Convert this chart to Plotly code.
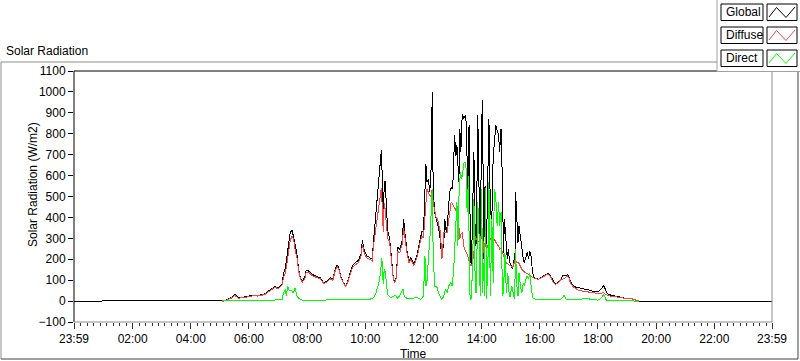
import plotly.graph_objects as go

# ---------------- data ----------------
global_time = [
    "00:00", "05:05", "05:07", "05:15", "05:25", "05:31", "05:38", "05:48", "05:58", "06:09",
    "06:19", "06:26", "06:33", "06:40", "06:47", "06:54", "07:00", "07:08", "07:11", "07:15",
    "07:18", "07:22", "07:25", "07:29", "07:32", "07:35", "07:39", "07:42", "07:46", "07:50",
    "07:55", "07:58", "08:03", "08:10", "08:17", "08:27", "08:34", "08:41", "08:48", "08:53",
    "08:58", "09:02", "09:05", "09:10", "09:15", "09:19", "09:23", "09:29", "09:33", "09:39",
    "09:46", "09:51", "09:54", "09:58", "10:03", "10:09", "10:14", "10:17", "10:21", "10:24",
    "10:26", "10:29", "10:31", "10:33", "10:35", "10:37", "10:39", "10:41", "10:43", "10:46",
    "10:50", "10:53", "10:57", "11:00", "11:04", "11:07", "11:11", "11:16", "11:19", "11:22",
    "11:26", "11:30", "11:34", "11:40", "11:47", "11:54", "11:57", "12:00", "12:03", "12:05",
    "12:07", "12:10", "12:13", "12:16", "12:18", "12:20", "12:23", "12:26", "12:29", "12:33",
    "12:35", "12:38", "12:40", "12:42", "12:44", "12:47", "12:49", "12:51", "12:54", "12:57",
    "13:00", "13:02", "13:04", "13:07", "13:09", "13:13", "13:15", "13:17", "13:20", "13:23",
    "13:26", "13:29", "13:31", "13:34", "13:37", "13:39", "13:41", "13:44", "13:47", "13:49",
    "13:52", "13:55", "13:57", "14:00", "14:02", "14:04", "14:07", "14:10", "14:13", "14:15",
    "14:18", "14:21", "14:24", "14:26", "14:29", "14:32", "14:35", "14:37", "14:40", "14:43",
    "14:45", "14:47", "14:50", "14:53", "14:55", "14:58", "15:01", "15:04", "15:06", "15:09",
    "15:10", "15:12", "15:15", "15:17", "15:20", "15:23", "15:26", "15:28", "15:31", "15:34",
    "15:37", "15:39", "15:42", "15:45", "15:48", "15:52", "15:57", "16:02", "16:07", "16:12",
    "16:17", "16:22", "16:27", "16:32", "16:38", "16:43", "16:48", "16:52", "16:57", "17:00",
    "17:03", "17:08", "17:14", "17:21", "17:28", "17:34", "17:41", "17:48", "17:55", "18:02",
    "18:07", "18:12", "18:16", "18:19", "18:26", "18:36", "18:47", "18:57", "19:11", "19:21",
    "19:24", "23:59"]
global_wm2 = [
    0, 0, 2, 6, 19, 32, 16, 18, 22, 29,
    26, 30, 35, 48, 58, 70, 61, 81, 130, 160,
    208, 273, 328, 339, 312, 272, 224, 160, 112, 96,
    112, 147, 144, 128, 120, 112, 88, 96, 112, 104,
    152, 173, 160, 112, 88, 72, 88, 136, 168, 184,
    195, 224, 291, 240, 216, 208, 200, 288, 400, 472,
    512, 608, 640, 720, 592, 384, 560, 576, 480, 336,
    304, 208, 128, 88, 112, 256, 248, 288, 392, 320,
    240, 192, 208, 176, 224, 304, 336, 328, 552, 656,
    568, 584, 520, 648, 1000, 536, 424, 392, 360, 328,
    280, 200, 248, 280, 392, 328, 360, 424, 520, 544,
    536, 632, 792, 696, 744, 568, 824, 712, 896, 872,
    888, 840, 472, 840, 200, 168, 424, 712, 264, 280,
    888, 552, 216, 856, 960, 200, 552, 264, 632, 872,
    424, 392, 712, 744, 840, 808, 792, 712, 824, 552,
    232, 392, 264, 200, 248, 184, 168, 152, 184, 232,
    520, 440, 280, 360, 296, 248, 200, 184, 216, 232,
    200, 240, 216, 136, 112, 107, 104, 112, 120, 128,
    133, 120, 96, 80, 93, 104, 123, 120, 125, 118,
    96, 75, 67, 64, 59, 56, 53, 48, 45, 48,
    59, 75, 56, 35, 29, 24, 16, 13, 10, 3,
    0, 0]

diffuse_time = [
    "05:05", "05:07", "05:15", "05:25", "05:31", "05:38", "05:48", "05:58", "06:09", "06:19",
    "06:26", "06:33", "06:40", "06:47", "06:54", "07:00", "07:08", "07:11", "07:15", "07:18",
    "07:22", "07:25", "07:29", "07:32", "07:35", "07:39", "07:42", "07:46", "07:50", "07:55",
    "07:58", "08:03", "08:10", "08:17", "08:27", "08:34", "08:41", "08:48", "08:53", "08:58",
    "09:02", "09:05", "09:10", "09:15", "09:19", "09:23", "09:29", "09:33", "09:39", "09:46",
    "09:51", "09:54", "09:58", "10:03", "10:09", "10:14", "10:17", "10:21", "10:24", "10:26",
    "10:29", "10:31", "10:33", "10:35", "10:37", "10:39", "10:41", "10:43", "10:46", "10:50",
    "10:53", "10:57", "11:00", "11:04", "11:07", "11:11", "11:16", "11:19", "11:22", "11:26",
    "11:30", "11:34", "11:40", "11:47", "11:54", "11:57", "12:00", "12:03", "12:07", "12:10",
    "12:13", "12:16", "12:18", "12:20", "12:23", "12:26", "12:29", "12:33", "12:35", "12:38",
    "12:40", "12:42", "12:47", "12:49", "12:54", "12:57", "13:00", "13:02", "13:07", "13:09",
    "13:13", "13:15", "13:17", "13:20", "13:23", "13:26", "13:29", "13:31", "13:34", "13:37",
    "13:39", "13:41", "13:44", "13:47", "13:49", "13:52", "13:55", "13:57", "14:00", "14:02",
    "14:04", "14:07", "14:10", "14:13", "14:15", "14:18", "14:21", "14:24", "14:26", "14:29",
    "14:32", "14:35", "14:37", "14:40", "14:43", "14:45", "14:47", "14:50", "14:55", "14:58",
    "15:01", "15:04", "15:09", "15:10", "15:12", "15:15", "15:17", "15:20", "15:23", "15:28",
    "15:31", "15:37", "15:42", "15:45", "15:48", "15:52", "15:57", "16:02", "16:07", "16:12",
    "16:17", "16:22", "16:27", "16:32", "16:38", "16:43", "16:48", "16:52", "16:57", "17:00",
    "17:03", "17:08", "17:14", "17:21", "17:28", "17:34", "17:41", "17:48", "17:55", "18:02",
    "18:07", "18:12", "18:16", "18:19", "18:26", "18:36", "18:47", "18:57", "19:11", "19:21",
    "19:24"]
diffuse_wm2 = [
    0, 2, 5, 16, 27, 14, 16, 20, 26, 24,
    28, 32, 44, 54, 66, 58, 75, 110, 135, 175,
    240, 290, 312, 295, 250, 205, 150, 105, 90, 105,
    138, 138, 122, 115, 106, 84, 92, 106, 100, 146,
    166, 154, 108, 85, 70, 84, 128, 158, 172, 185,
    212, 270, 228, 206, 200, 192, 265, 345, 400, 420,
    470, 510, 540, 450, 330, 470, 440, 380, 300, 285,
    200, 122, 85, 108, 236, 232, 270, 350, 300, 228,
    184, 198, 168, 212, 290, 310, 300, 424, 536, 520,
    504, 500, 536, 470, 424, 400, 392, 340, 328, 200,
    260, 328, 330, 330, 420, 472, 465, 456, 440, 424,
    360, 296, 320, 328, 264, 240, 232, 216, 200, 168,
    170, 184, 232, 312, 296, 285, 280, 280, 310, 328,
    232, 280, 248, 265, 280, 300, 312, 305, 296, 280,
    270, 264, 248, 255, 232, 215, 200, 184, 175, 168,
    168, 160, 195, 200, 184, 184, 180, 168, 152, 140,
    136, 128, 120, 112, 110, 105, 104, 110, 118, 125,
    130, 118, 92, 80, 88, 101, 104, 110, 120, 110,
    88, 70, 60, 51, 48, 45, 42, 40, 38, 37,
    40, 40, 32, 28, 24, 20, 16, 13, 10, 3,
    0]

direct_time = [
    "05:05", "05:15", "05:25", "05:38", "06:00", "06:30", "06:54", "07:00", "07:08", "07:11",
    "07:15", "07:17", "07:20", "07:23", "07:27", "07:31", "07:35", "07:39", "07:42", "07:46",
    "07:50", "08:00", "08:30", "09:00", "09:30", "10:00", "10:09", "10:17", "10:21", "10:25",
    "10:28", "10:31", "10:34", "10:37", "10:39", "10:41", "10:43", "10:46", "10:52", "11:02",
    "11:07", "11:18", "11:20", "11:26", "11:47", "11:54", "12:00", "12:03", "12:05", "12:07",
    "12:11", "12:14", "12:18", "12:20", "12:23", "12:27", "12:31", "12:35", "12:38", "12:42",
    "12:45", "12:49", "12:52", "12:56", "12:59", "13:02", "13:04", "13:06", "13:09", "13:11",
    "13:13", "13:16", "13:19", "13:22", "13:24", "13:26", "13:28", "13:30", "13:33", "13:35",
    "13:38", "13:41", "13:44", "13:47", "13:49", "13:52", "13:55", "13:57", "14:00", "14:02",
    "14:04", "14:06", "14:08", "14:10", "14:13", "14:15", "14:18", "14:21", "14:24", "14:26",
    "14:29", "14:32", "14:35", "14:37", "14:40", "14:43", "14:45", "14:48", "14:51", "14:54",
    "14:57", "14:59", "15:02", "15:05", "15:08", "15:10", "15:12", "15:15", "15:17", "15:20",
    "15:23", "15:26", "15:28", "15:31", "15:34", "15:37", "15:39", "15:42", "15:45", "15:52",
    "16:10", "16:30", "16:44", "16:50", "16:55", "17:10", "17:40", "17:46", "18:00", "18:07",
    "18:12", "18:17", "18:30", "19:00", "19:24"]
direct_wm2 = [
    0, 2, 4, 3, 4, 4, 5, 8, 5, 40,
    56, 24, 72, 48, 53, 40, 60, 25, 15, 8,
    5, 4, 5, 5, 5, 5, 8, 16, 32, 64,
    88, 128, 208, 80, 152, 144, 80, 32, 16, 27,
    12, 57, 24, 12, 16, 8, 24, 216, 72, 88,
    232, 328, 536, 232, 72, 72, 40, 24, 8, 24,
    56, 40, 72, 88, 72, 136, 232, 392, 472, 264,
    488, 616, 584, 632, 664, 664, 632, 424, 600, 40,
    8, 136, 488, 40, 40, 472, 296, 24, 536, 40,
    180, 24, 540, 8, 184, 568, 24, 392, 88, 536,
    504, 360, 472, 360, 424, 24, 40, 232, 40, 136,
    24, 24, 72, 40, 8, 248, 88, 24, 136, 72,
    40, 88, 72, 104, 120, 104, 136, 72, 16, 8,
    6, 6, 10, 27, 8, 6, 13, 6, 5, 15,
    32, 5, 2, 1, 0]

x_tick_minutes = [-1, 120, 240, 360, 480, 600, 720, 840, 960, 1080, 1200, 1320, 1439]
x_tick_labels = ["23:59", "02:00", "04:00", "06:00", "08:00", "10:00", "12:00",
                 "14:00", "16:00", "18:00", "20:00", "22:00", "23:59"]

series_names = ["Global", "Diffuse", "Direct"]
series_colors = ["#000000", "#ff4040", "#00ff00"]


def to_min(t):
    h, m = t.split(":")
    return int(h) * 60 + int(m)


# ---------------- geometry helpers ----------------
W, H = 800, 361
L, R, T, B = 74, 28, 71, 39
PW, PH = W - L - R, H - T - B


def fx(x):
    return (x - L) / PW


def fy(y):
    return (H - B - y) / PH


FONT = "Liberation Sans, Arial, sans-serif"

fig = go.Figure()
for tm, vals, name, col in [
    (global_time, global_wm2, series_names[0], series_colors[0]),
    (diffuse_time, diffuse_wm2, series_names[1], series_colors[1]),
    (direct_time, direct_wm2, series_names[2], series_colors[2]),
]:
    fig.add_trace(go.Scatter(
        x=[to_min(t) for t in tm], y=vals, mode="lines", name=name,
        line=dict(color=col, width=1), hoverinfo="skip"))

minor_vals = [k * 120 / 9 for k in range(1, 108) if k % 9 != 0]

fig.update_layout(
    width=W, height=H, showlegend=False,
    margin=dict(l=L, r=R, t=T, b=B, pad=0, autoexpand=False),
    paper_bgcolor="white", plot_bgcolor="white",
    font=dict(family=FONT, size=12, color="#000000"),
    xaxis=dict(range=[-1, 1439], tickmode="array", tickvals=x_tick_minutes,
               ticktext=x_tick_labels, ticks="outside", ticklen=6, tickwidth=1,
               tickcolor="#333333", showgrid=False, zeroline=False, showline=False,
               tickfont=dict(size=12, family=FONT, color="#000000"),
               minor=dict(tickmode="array", tickvals=minor_vals, ticks="outside",
                          ticklen=3, tickwidth=1, tickcolor="#333333", showgrid=False)),
    yaxis=dict(range=[-100, 1100], tickmode="linear", tick0=0, dtick=100,
               ticks="outside", ticklen=5, tickwidth=1, tickcolor="#000000",
               showgrid=False, zeroline=False, showline=False,
               tickfont=dict(size=12, family=FONT, color="#000000")),
)

shapes = []


def line(x0, y0, x1, y1, color, width=1):
    shapes.append(dict(type="line", xref="paper", yref="paper",
                       x0=fx(x0), y0=fy(y0), x1=fx(x1), y1=fy(y1),
                       line=dict(color=color, width=width)))


# plot-area frame
line(L, T, L + PW, T, "#000000")
line(L, T, L, T + PH, "#000000")
line(L + PW, T, L + PW, T + PH, "#8c8c8c")
line(L, T + PH, L + PW, T + PH, "#8c8c8c")
# outer frame
line(1, 62, 717, 62, "#8c8c8c")
line(1, 62, 1, 359, "#8c8c8c")
line(1, 359, 798, 359, "#404040")
line(798, 71, 798, 359, "#404040")

# legend panel
shapes.append(dict(type="rect", xref="paper", yref="paper",
                   x0=fx(717), y0=fy(71.5), x1=fx(800), y1=fy(-1),
                   fillcolor="white", line=dict(width=0)))
line(717, 0, 717, 71.5, "#a0a0a0")
line(717, 71.5, 800, 71.5, "#a0a0a0")

annotations = []
for i, (name, col) in enumerate(zip(series_names, series_colors)):
    y0 = 4 + 23 * i
    y1 = y0 + 16.5
    shapes.append(dict(type="rect", xref="paper", yref="paper",
                       x0=fx(721), y0=fy(y1), x1=fx(763), y1=fy(y0),
                       fillcolor="white", line=dict(color="#000000", width=1)))
    shapes.append(dict(type="rect", xref="paper", yref="paper",
                       x0=fx(767), y0=fy(y1), x1=fx(797), y1=fy(y0),
                       fillcolor="white", line=dict(color="#000000", width=1)))
    pts = [(769, y0 + 13), (776.5, y0 + 3.5), (786, y0 + 13.5), (795, y0 + 3)]
    path = "M " + " L ".join(f"{fx(px):.5f},{fy(py):.5f}" for px, py in pts)
    shapes.append(dict(type="path", xref="paper", yref="paper", path=path,
                       line=dict(color=col, width=1)))
    annotations.append(dict(xref="paper", yref="paper", x=fx(723.5), y=fy((y0 + y1) / 2),
                            text=name, showarrow=False, xanchor="left", yanchor="middle",
                            font=dict(size=12, family=FONT, color="#000000")))

annotations.append(dict(xref="paper", yref="paper", x=fx(4), y=fy(51),
                        text="Solar Radiation", showarrow=False, xanchor="left",
                        yanchor="middle", font=dict(size=12, family=FONT, color="#000000")))
annotations.append(dict(xref="paper", yref="paper", x=fx(33), y=fy(185),
                        text="Solar Radiation (W/m2)", showarrow=False, textangle=-90,
                        xanchor="center", yanchor="middle",
                        font=dict(size=12, family=FONT, color="#000000")))
annotations.append(dict(xref="paper", yref="paper", x=fx(413), y=fy(354),
                        text="Time", showarrow=False, xanchor="center", yanchor="middle",
                        font=dict(size=12, family=FONT, color="#000000")))

fig.update_layout(shapes=shapes, annotations=annotations)
fig.write_html(
    "out.html",
    config={"displayModeBar": False, "staticPlot": True},
    post_script=(
        "document.body.style.margin='0';document.body.style.padding='0';"
        "document.querySelectorAll('.scatterlayer path.js-line').forEach("
        "function(p){p.style.shapeRendering='crispEdges';});"
    ),
)
